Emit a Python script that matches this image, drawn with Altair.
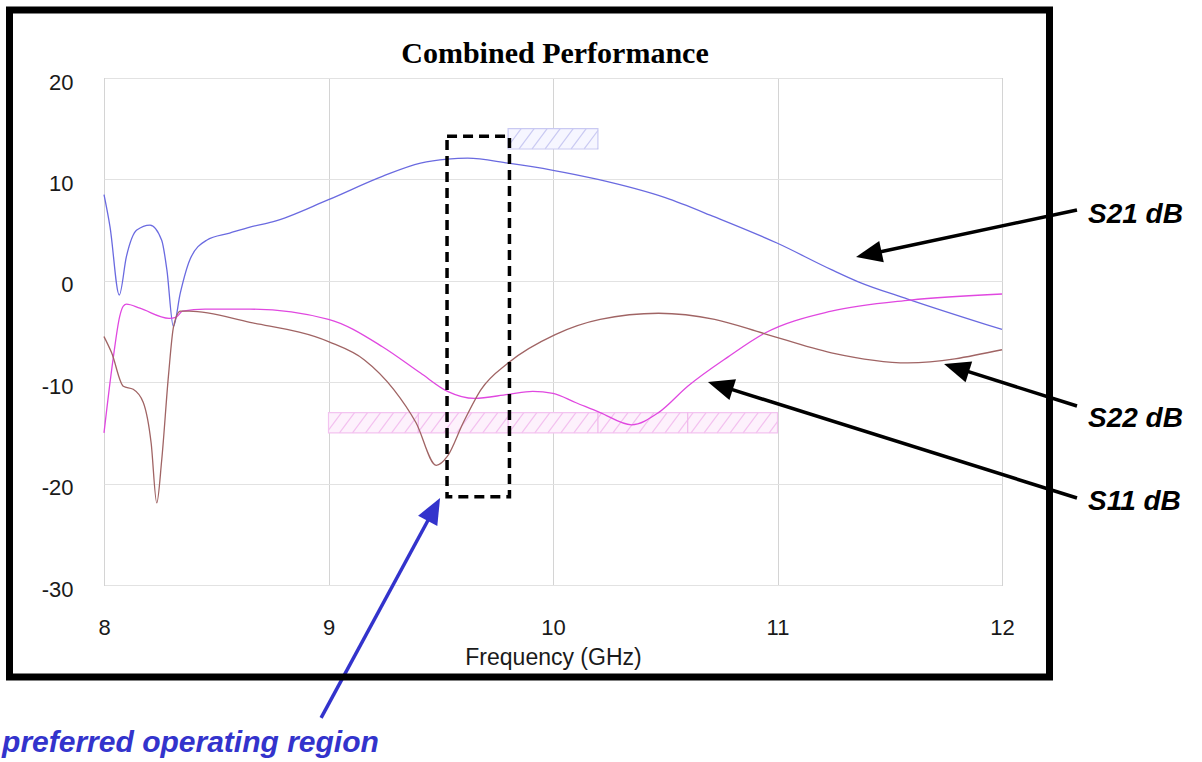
import math
import pandas as pd
import altair as alt

# ---------------- data ----------------
freq_s21 = [8.00, 8.027, 8.068, 8.10, 8.146, 8.205, 8.257, 8.28, 8.309, 8.34, 8.383, 8.457,
            8.56, 8.65, 8.75, 9.00, 9.24, 9.41, 9.53, 9.62, 9.80, 10.00, 10.20, 10.50,
            10.72, 11.00, 11.24, 11.36, 11.58, 12.00]
s21_db = [8.5, 5.3, -1.4, 2.4, 5.0, 5.5, 4.0, 1.1, -4.5, -1.2, 2.1, 4.0,
          4.7, 5.3, 5.8, 8.0, 10.3, 11.6, 12.0, 12.1, 11.6, 10.9, 10.0, 8.2,
          6.3, 3.7, 1.1, -0.1, -1.8, -4.8]

freq_s11 = [8.00, 8.04, 8.07, 8.086, 8.10, 8.16, 8.29, 8.32, 8.35, 8.45, 8.65, 9.00,
            9.24, 9.41, 9.53, 9.65, 9.80, 9.91, 10.00, 10.10, 10.21, 10.35, 10.47,
            10.60, 10.78, 10.94, 11.24, 11.59, 12.00]
s11_db = [-15.0, -7.8, -3.5, -2.5, -2.3, -2.7, -3.7, -3.6, -3.0, -2.8, -2.8, -3.8,
          -6.5, -9.1, -10.9, -11.6, -11.2, -10.9, -11.1, -12.0, -13.0, -14.2, -13.0,
          -10.4, -7.5, -5.2, -3.0, -1.9, -1.3]

freq_s22 = [8.00, 8.034, 8.086, 8.13, 8.175, 8.21, 8.235, 8.257, 8.287, 8.31, 8.34, 8.38,
            8.65, 9.00, 9.16, 9.29, 9.39, 9.48, 9.53, 9.60, 9.68, 9.80, 10.01, 10.21,
            10.47, 10.72, 10.94, 11.24, 11.58, 12.00]
s22_db = [-5.5, -7.1, -10.4, -10.7, -12.0, -16.0, -21.9, -17.7, -9.4, -4.5, -3.0, -3.0,
          -4.1, -6.0, -7.8, -10.7, -14.0, -18.2, -17.3, -14.0, -10.7, -8.1, -5.3, -3.8,
          -3.2, -3.8, -5.2, -7.1, -8.1, -6.8]

series_names = ["S21 dB", "S11 dB", "S22 dB"]
series_colors = ["#6a6ae0", "#e048e0", "#a06464"]

x_ticks = [8, 9, 10, 11, 12]
y_ticks = [-30, -20, -10, 0, 10, 20]

chart_title = "Combined Performance"
x_title = "Frequency (GHz)"

# spec masks (hatched regions)
mask_s21 = {"x0": 9.8, "x1": 10.2, "y0": 13.0, "y1": 15.0}
mask_s11 = {"x0": 9.0, "x1": 11.0, "y0": -15.0, "y1": -13.0}
mask_s11_dividers = [9.4, 9.8, 10.2, 10.6]

# preferred operating region box
region_box = {"x0": 9.528, "x1": 9.806, "y0": -21.3, "y1": 14.25}

# annotation labels
label_text = ["S21 dB", "S22 dB", "S11 dB"]
label_x = [12.383, 12.383, 12.383]
label_y = [5.7, -14.4, -22.6]

# arrows: tail -> tip
arrow_tail_x = [12.334, 12.334, 12.334, 8.967]
arrow_tail_y = [6.98, -12.35, -21.42, -43.1]
arrow_tip_x = [11.35, 11.742, 10.69, 9.497]
arrow_tip_y = [2.35, -8.2, -9.97, -21.42]
arrow_color = ["black", "black", "black", "#3333cc"]

# ---------------- geometry ----------------
W, H = 898, 507
XD, YD = [8, 12], [-30, 20]
KX = W / (XD[1] - XD[0])
KY = H / (YD[1] - YD[0])
HEAD = 26.0

xs = alt.Scale(domain=XD, nice=False, zero=False)
ys = alt.Scale(domain=YD, nice=False, zero=False)

x_axis = alt.Axis(
    values=x_ticks, title=x_title, grid=True, gridColor="#d4d4d4",
    domain=False, ticks=False, labelPadding=32, labelFlush=False,
    labelExpr="'' + datum.value", labelFont="Liberation Sans",
    labelFontSize=22, labelColor="#1a1a1a", titleFont="Liberation Sans",
    titleFontSize=23, titleFontWeight="normal", titleColor="#1a1a1a", titlePadding=8)
y_axis = alt.Axis(
    values=y_ticks, title="", grid=True, gridColor="#e2e2e2", domain=False,
    ticks=False, labelPadding=31, labelOffset=4, labelFlush=False,
    labelExpr="'' + datum.value", labelFont="Liberation Sans",
    labelFontSize=22, labelColor="#1a1a1a")


def X(field):
    return alt.X(field, scale=xs, axis=x_axis)


def Y(field):
    return alt.Y(field, scale=ys, axis=y_axis)


rows = []
for name, fr, vals in zip(series_names, [freq_s21, freq_s11, freq_s22], [s21_db, s11_db, s22_db]):
    for f, v in zip(fr, vals):
        rows.append({"f": f, "db": v, "s": name})
lines_df = pd.DataFrame(rows)


def hatch(m, step, dx):
    segs = []
    x = m["x0"] - dx
    while x < m["x1"]:
        t0 = max(0.0, (m["x0"] - x) / dx)
        t1 = min(1.0, (m["x1"] - x) / dx)
        if t1 > t0:
            segs.append({
                "x": x + t0 * dx, "y": m["y0"] + t0 * (m["y1"] - m["y0"]),
                "x2": x + t1 * dx, "y2": m["y0"] + t1 * (m["y1"] - m["y0"]),
            })
        x += step
    return pd.DataFrame(segs)


def rect_layer(m, fill, stroke, sw, fo=1.0, dash=None):
    kw = dict(fill=fill, fillOpacity=fo, stroke=stroke, strokeWidth=sw)
    if dash:
        kw["strokeDash"] = dash
    return alt.Chart(pd.DataFrame([m])).mark_rect(**kw).encode(
        x=X("x0:Q"), x2="x1:Q", y=Y("y0:Q"), y2="y1:Q")


def hatch_layer(df, color, sw=1.2):
    return alt.Chart(df).mark_rule(color=color, strokeWidth=sw).encode(
        x=X("x:Q"), x2="x2:Q", y=Y("y:Q"), y2="y2:Q")


# curves
lines = alt.Chart(lines_df).mark_line(strokeWidth=1.3, interpolate="monotone").encode(
    x=X("f:Q"), y=Y("db:Q"),
    color=alt.Color("s:N", scale=alt.Scale(domain=series_names, range=series_colors), legend=None),
)

# masks
m21_fill = rect_layer(mask_s21, "#f6f6ff", "#c9c9f2", 1.2)
m21_hatch = hatch_layer(hatch(mask_s21, 0.058, 0.067), "#c9c9f2")
m11_fill = rect_layer(mask_s11, "#fdf1fc", "#f3c4f0", 1.2)
m11_hatch = hatch_layer(hatch(mask_s11, 0.058, 0.067), "#f3c0ef")
div_df = pd.DataFrame({"x": mask_s11_dividers, "y": mask_s11["y0"], "y2": mask_s11["y1"]})
m11_div = alt.Chart(div_df).mark_rule(color="#f0b8ec", strokeWidth=1.2).encode(
    x=X("x:Q"), y=Y("y:Q"), y2="y2:Q")

# dashed region box
box = rect_layer(region_box, "white", "black", 3.5, fo=0.0, dash=[10, 6])

# arrows
arows = []
for tx0, ty0, tx1, ty1, c in zip(arrow_tail_x, arrow_tail_y, arrow_tip_x, arrow_tip_y, arrow_color):
    dxp = (tx1 - tx0) * KX
    dyp = -(ty1 - ty0) * KY
    L = math.hypot(dxp, dyp)
    ux, uy = dxp / L, dyp / L
    ang = math.degrees(math.atan2(dxp, -dyp)) % 360
    ex = tx1 - 0.6 * HEAD * ux / KX
    ey = ty1 + 0.6 * HEAD * uy / KY
    arows.append({"x": tx0, "y": ty0, "xe": ex, "ye": ey, "tx": tx1, "ty": ty1, "ang": ang, "c": c})
arrow_df = pd.DataFrame(arows)

shafts = alt.Chart(arrow_df).mark_rule(strokeWidth=3.5).encode(
    x=X("x:Q"), x2="xe:Q", y=Y("y:Q"), y2="ye:Q",
    color=alt.Color("c:N", scale=None))
heads = alt.Chart(arrow_df).mark_point(
    shape="M0,0L-0.42,1L0.42,1Z", filled=True, opacity=1, strokeWidth=0).encode(
    x=X("tx:Q"), y=Y("ty:Q"),
    angle=alt.Angle("ang:Q", scale=None),
    size=alt.value(HEAD * HEAD * 4),
    color=alt.Color("c:N", scale=None))

# labels
lab_df = pd.DataFrame({"t": label_text, "x": label_x, "y": label_y})
labels = alt.Chart(lab_df).mark_text(
    align="left", baseline="alphabetic", font="Liberation Sans", fontSize=28,
    fontStyle="italic", fontWeight="bold", color="black").encode(
    x=X("x:Q"), y=Y("y:Q"), text="t:N")

region_df = pd.DataFrame({"t": ["preferred operating region"], "x": [7.546], "y": [-46.47]})
region_label = alt.Chart(region_df).mark_text(
    align="left", baseline="alphabetic", font="Liberation Sans", fontSize=30,
    fontStyle="italic", fontWeight="bold", color="#3333cc").encode(
    x=X("x:Q"), y=Y("y:Q"), text="t:N")

# chart title (drawn as text so that the outer frame does not push it off the page)
title_df = pd.DataFrame({"t": [chart_title]})
title = alt.Chart(title_df).mark_text(
    align="center", baseline="alphabetic", font="Liberation Serif", fontSize=30,
    fontWeight="bold", color="black").encode(
    x=alt.value(W / 2 + 2), y=alt.value(-15), text="t:N")

# outer black frame
frame = alt.Chart(alt.Data(values=[{}])).mark_rect(
    fill="white", fillOpacity=0, stroke="black", strokeWidth=7).encode(
    x=alt.value(-94.5), x2=alt.value(945.5), y=alt.value(-68), y2=alt.value(599))

chart = alt.layer(
    m21_fill, m21_hatch, m11_fill, m11_hatch, m11_div,
    lines, box, shafts, heads, labels, region_label, title, frame,
).properties(
    width=W, height=H,
    autosize=alt.AutoSizeParams(type="none"),
    padding={"left": 104, "top": 78, "right": 200, "bottom": 177},
    background="white",
).configure_view(stroke="#9a9a9a", strokeWidth=1)

chart.save("out.html", embed_options={"renderer": "svg", "actions": False})
